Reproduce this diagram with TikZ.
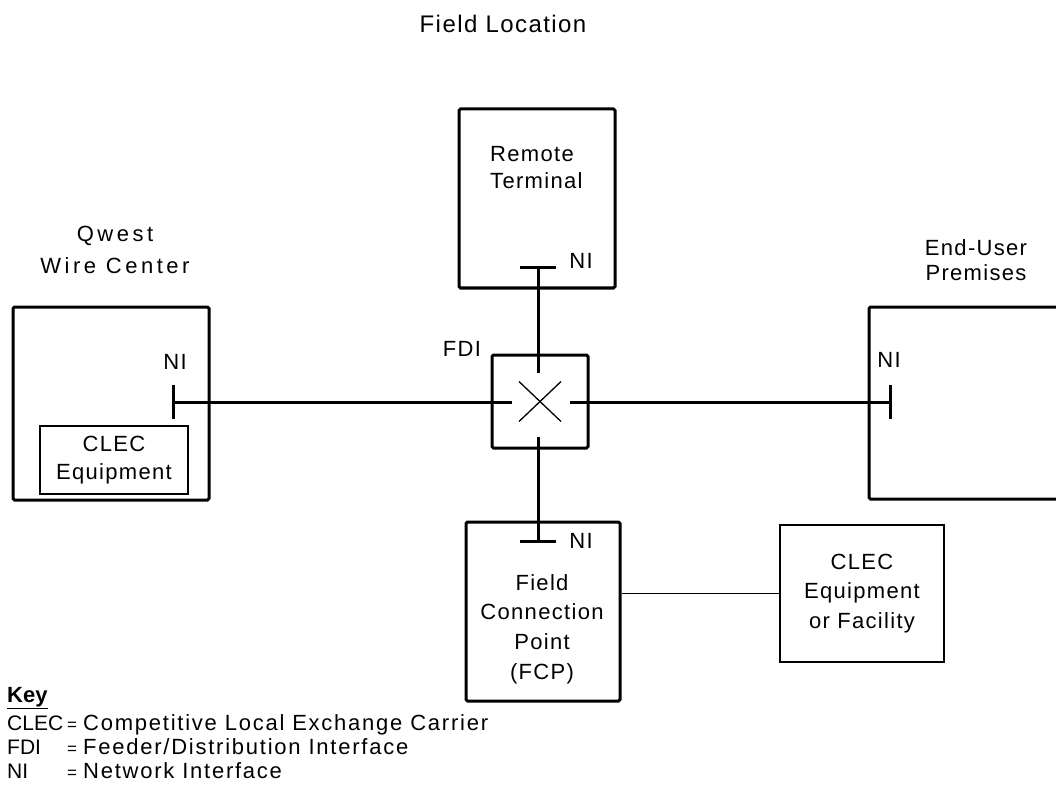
\documentclass[tikz,border=0pt]{standalone}
\usepackage{fontspec}
\setmainfont{Liberation Sans}
\newfontfamily\labelfont[LetterSpace=6]{Liberation Sans}
\newfontfamily\widefont[LetterSpace=16]{Liberation Sans}
\newfontfamily\keyfont[LetterSpace=8]{Liberation Sans}
\begin{document}
\begin{tikzpicture}[x=1pt, y=-1pt,
	box/.style={draw, line width=3pt, rounded corners=1.5pt, inner sep=0pt},
	thinbox/.style={draw, line width=1.3pt, inner sep=0pt},
	wire/.style={line width=3pt},
	thinwire/.style={line width=1.3pt},
	lbl/.style={font=\labelfont\fontsize{22}{29}\selectfont, align=center, inner sep=0pt},
	keytext/.style={font=\keyfont\fontsize{22}{26}\selectfont, inner sep=0pt, anchor=base west},
	keyabbr/.style={font=\fontsize{21}{26}\selectfont, inner sep=0pt, anchor=base west}]
	\useasboundingbox (0,0) rectangle (1056,791);
	\node[lbl, font=\labelfont\fontsize{24}{29}\selectfont] (title) at (503,24) {Field Location};
	% Qwest wire center, with the CLEC equipment inside
	\node[box, minimum width=196pt, minimum height=193pt] (wc) at (111,403.5) {};
	\node[lbl, font=\widefont\fontsize{22}{32}\selectfont] (wcname) at (115,250) {Qwest\\Wire Center};
	\node[thinbox, lbl, minimum width=148pt, minimum height=68pt, font=\labelfont\fontsize{22}{28}\selectfont] (wcclec) at (114,460) {CLEC\\Equipment};
	\node[lbl] (wcni) at (175,362) {NI};
	\coordinate (wctick) at (173,402);
	\draw[wire] ([yshift=17pt]wctick) -- ([yshift=-17pt]wctick);
	% remote terminal
	\node[box, minimum width=156pt, minimum height=179pt] (rt) at (537,198.5) {};
	\node[lbl, align=left, anchor=west, font=\labelfont\fontsize{22}{27}\selectfont] (rtname) at (490,168) {Remote\\Terminal};
	\node[lbl] (rtni) at (581,261) {NI};
	\coordinate (rttick) at (538,268);
	\draw[wire] ([xshift=-18pt]rttick) -- ([xshift=18pt]rttick);
	% feeder/distribution interface
	\node[box, minimum width=96pt, minimum height=93pt] (fdi) at (540,401.5) {};
	\node[lbl] (fdiname) at (462,349) {FDI};
	\draw[thinwire] ([shift={(-21,-20)}]fdi.center) -- ([shift={(21,20)}]fdi.center);
	\draw[thinwire] ([shift={(-21,20)}]fdi.center) -- ([shift={(21,-20)}]fdi.center);
	\coordinate (fdiw) at (512,402);
	\coordinate (fdie) at (570,402);
	\coordinate (fdin) at (538,373);
	\coordinate (fdis) at (538,437);
	% end-user premises, running off the page
	\node[box, minimum width=240pt, minimum height=192pt] (eu) at (989,403) {};
	\node[lbl, font=\labelfont\fontsize{22}{25}\selectfont] (euname) at (976,260) {End-User\\Premises};
	\node[lbl] (euni) at (889,360) {NI};
	\coordinate (eutick) at (890,402);
	\draw[wire] ([yshift=17pt]eutick) -- ([yshift=-17pt]eutick);
	% field connection point
	\node[box, minimum width=154pt, minimum height=179pt] (fcp) at (543,611.5) {};
	\node[lbl, font=\labelfont\fontsize{22}{29.6}\selectfont] (fcpname) at (542,629) {Field\\Connection\\Point\\(FCP)};
	\node[lbl] (fcpni) at (581,541) {NI};
	\coordinate (fcptick) at (538,541);
	\draw[wire] ([xshift=-18pt]fcptick) -- ([xshift=18pt]fcptick);
	\node[thinbox, lbl, minimum width=164pt, minimum height=137pt, font=\labelfont\fontsize{22}{29.5}\selectfont] (fac) at (862,593.5) {CLEC\\Equipment\\or Facility};
	% connectors
	\draw[wire] (wctick) -- (fdiw);
	\draw[wire] (fdie) -- (eutick);
	\draw[wire] (rttick) -- (fdin);
	\draw[wire] (fdis) -- (fcptick);
	\draw[thinwire] (fac.west) -- (fac.west -| fcp.east);
	% key
	\node[keyabbr, font=\bfseries\fontsize{22}{26}\selectfont] (keyhead) at (7,702) {\underline{Key}};
	\node[keyabbr] (kclec) at (7,730) {CLEC};
	\node[keyabbr] (kfdi) at (7,754) {FDI};
	\node[keyabbr] (kni) at (7,778) {NI};
	\node[keyabbr, font=\fontsize{17}{20}\selectfont] (kclec=) at (67,730) {=};
	\node[keyabbr, font=\fontsize{17}{20}\selectfont] (kfdi=) at (67,754) {=};
	\node[keyabbr, font=\fontsize{17}{20}\selectfont] (kni=) at (67,778) {=};
	\node[keytext] (kclecdef) at (83,730) {Competitive Local Exchange Carrier};
	\node[keytext] (kfdidef) at (83,754) {Feeder/Distribution Interface};
	\node[keytext] (knidef) at (83,778) {Network Interface};
\end{tikzpicture}
\end{document}
